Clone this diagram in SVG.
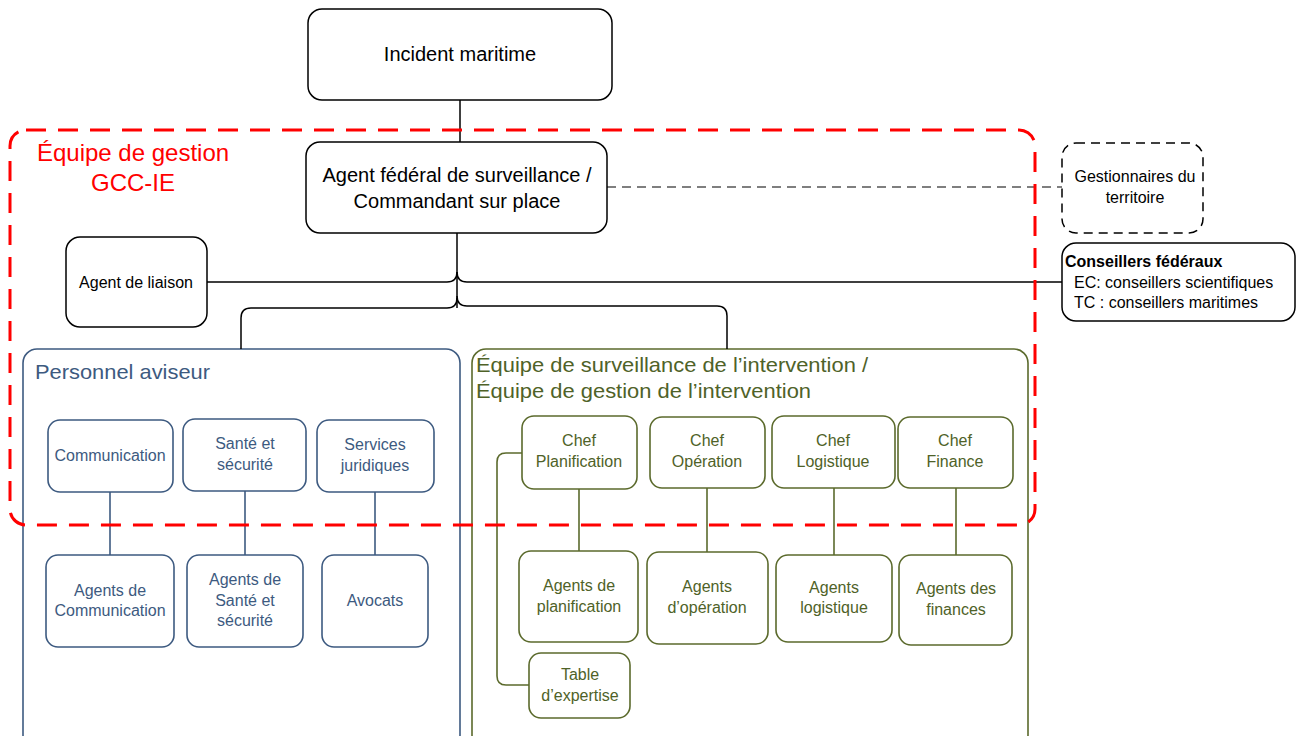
<svg xmlns="http://www.w3.org/2000/svg" width="1297" height="736" viewBox="0 0 1297 736">
<style>
text{font-family:"Liberation Sans",Arial,sans-serif;}
.k{fill:#fff;stroke:#000;stroke-width:1.5;}
.kd{fill:#fff;stroke:#000;stroke-width:1.5;stroke-dasharray:9,6;}
.b{fill:#fff;stroke:#3d5a80;stroke-width:1.6;}
.g{fill:#fff;stroke:#5b6a2c;stroke-width:1.6;}
.kt{fill:#000;text-anchor:middle;}
.bt{fill:#3d5a80;text-anchor:middle;font-size:16px;}
.gt{fill:#4f6228;text-anchor:middle;font-size:16px;}
.lk{fill:none;stroke:#000;stroke-width:1.5;}
.lb{fill:none;stroke:#3d5a80;stroke-width:1.6;}
.lg{fill:none;stroke:#5b6a2c;stroke-width:1.6;}
</style>

<g id="personnel-aviseur">
<rect class="b" x="23" y="349" width="437" height="400" rx="14"/>
<text x="35" y="379" font-size="21" fill="#3d5a80" textLength="175" lengthAdjust="spacingAndGlyphs">Personnel aviseur</text>
</g>
<g id="equipe-surveillance">
<rect class="g" x="472" y="349" width="556" height="400" rx="14"/>
<text x="476" y="372" font-size="21" fill="#4f6228" textLength="392" lengthAdjust="spacingAndGlyphs">Équipe de surveillance de l’intervention /</text>
<text x="476" y="398" font-size="21" fill="#4f6228" textLength="335" lengthAdjust="spacingAndGlyphs">Équipe de gestion de l’intervention</text>
</g>

<g id="connectors">
<line class="lk" x1="460" y1="100" x2="460" y2="142"/>
<path class="lk" d="M457 233 V308"/>
<path class="lk" d="M207 282 H447 Q457 282 457 272"/>
<path class="lk" d="M1062 282 H467 Q457 282 457 272"/>
<path class="lk" d="M241 349 V318 Q241 308 251 308 H447 Q457 308 457 298"/>
<path class="lk" d="M727 349 V316 Q727 306 717 306 H467 Q457 306 457 296"/>
<line x1="607" y1="187" x2="1062" y2="187" stroke="#000" stroke-width="1.2" stroke-dasharray="9,6"/>
<line class="lb" x1="110" y1="492" x2="110" y2="555"/>
<line class="lb" x1="245" y1="491" x2="245" y2="555"/>
<line class="lb" x1="375" y1="492" x2="375" y2="555"/>
<line class="lg" x1="579" y1="489" x2="579" y2="551"/>
<line class="lg" x1="707" y1="488" x2="707" y2="552"/>
<line class="lg" x1="834" y1="488" x2="834" y2="555"/>
<line class="lg" x1="956" y1="488" x2="956" y2="555"/>
<path class="lg" d="M522 453 H506 Q497 453 497 462 V676 Q497 685 506 685 H529"/>
</g>

<g id="incident">
<rect class="k" x="308" y="9" width="304" height="91" rx="14"/>
<text class="kt" x="460" y="61" font-size="20">Incident maritime</text>
</g>
<g id="agent-federal">
<rect class="k" x="306" y="142" width="301" height="91" rx="14"/>
<text class="kt" x="457" y="182" font-size="20">Agent fédéral de surveillance /</text>
<text class="kt" x="457" y="208" font-size="20">Commandant sur place</text>
</g>
<g id="gestionnaires">
<rect class="kd" x="1062" y="143" width="141" height="90" rx="14"/>
<text class="kt" x="1135" y="182" font-size="16">Gestionnaires du</text>
<text class="kt" x="1135" y="203" font-size="16">territoire</text>
</g>
<g id="agent-liaison">
<rect class="k" x="66" y="237" width="141" height="90" rx="14"/>
<text class="kt" x="136" y="288" font-size="16">Agent de liaison</text>
</g>
<g id="conseillers">
<rect class="k" x="1062" y="243" width="233" height="78" rx="14"/>
<text x="1065" y="267" font-size="16" font-weight="bold">Conseillers fédéraux</text>
<text x="1074" y="288" font-size="16">EC: conseillers scientifiques</text>
<text x="1074" y="308" font-size="16">TC : conseillers maritimes</text>
</g>

<g id="communication"><rect class="b" x="48" y="420" width="125" height="72" rx="12"/><text class="bt" x="110" y="461">Communication</text></g>
<g id="sante"><rect class="b" x="183" y="419" width="123" height="72" rx="12"/><text class="bt" x="245" y="449">Santé et</text><text class="bt" x="245" y="470">sécurité</text></g>
<g id="juridiques"><rect class="b" x="317" y="420" width="117" height="72" rx="12"/><text class="bt" x="375" y="450">Services</text><text class="bt" x="375" y="471">juridiques</text></g>
<g id="agents-comm"><rect class="b" x="46" y="555" width="128" height="92" rx="12"/><text class="bt" x="110" y="596">Agents  de</text><text class="bt" x="110" y="616">Communication</text></g>
<g id="agents-sante"><rect class="b" x="187" y="555" width="116" height="92" rx="12"/><text class="bt" x="245" y="585">Agents de</text><text class="bt" x="245" y="606">Santé et</text><text class="bt" x="245" y="626">sécurité</text></g>
<g id="avocats"><rect class="b" x="322" y="555" width="106" height="92" rx="12"/><text class="bt" x="375" y="606">Avocats</text></g>

<g id="chef-planif"><rect class="g" x="522" y="416" width="115" height="73" rx="12"/><text class="gt" x="579" y="446">Chef</text><text class="gt" x="579" y="467">Planification</text></g>
<g id="chef-oper"><rect class="g" x="650" y="417" width="115" height="71" rx="12"/><text class="gt" x="707" y="446">Chef</text><text class="gt" x="707" y="467">Opération</text></g>
<g id="chef-log"><rect class="g" x="772" y="416" width="123" height="72" rx="12"/><text class="gt" x="833" y="446">Chef</text><text class="gt" x="833" y="467">Logistique</text></g>
<g id="chef-fin"><rect class="g" x="898" y="417" width="115" height="71" rx="12"/><text class="gt" x="955" y="446">Chef</text><text class="gt" x="955" y="467">Finance</text></g>
<g id="agents-planif"><rect class="g" x="519" y="551" width="119" height="91" rx="12"/><text class="gt" x="579" y="591">Agents de</text><text class="gt" x="579" y="612">planification</text></g>
<g id="agents-oper"><rect class="g" x="647" y="552" width="121" height="92" rx="12"/><text class="gt" x="707" y="592">Agents</text><text class="gt" x="707" y="613">d’opération</text></g>
<g id="agents-log"><rect class="g" x="776" y="555" width="116" height="87" rx="12"/><text class="gt" x="834" y="593">Agents</text><text class="gt" x="834" y="613">logistique</text></g>
<g id="agents-fin"><rect class="g" x="899" y="555" width="113" height="90" rx="12"/><text class="gt" x="956" y="594">Agents des</text><text class="gt" x="956" y="615">finances</text></g>
<g id="table-expertise"><rect class="g" x="529" y="653" width="101" height="65" rx="12"/><text class="gt" x="580" y="680">Table</text><text class="gt" x="580" y="701">d’expertise</text></g>

<g id="gcc-ie">
<rect x="10" y="130" width="1025" height="395" rx="16" fill="none" stroke="#ff0000" stroke-width="3" stroke-dasharray="20,12"/>
<text x="133" y="161" font-size="24" fill="#ff0000" text-anchor="middle">Équipe de gestion</text>
<text x="133" y="191" font-size="24" fill="#ff0000" text-anchor="middle">GCC-IE</text>
</g>
</svg>
